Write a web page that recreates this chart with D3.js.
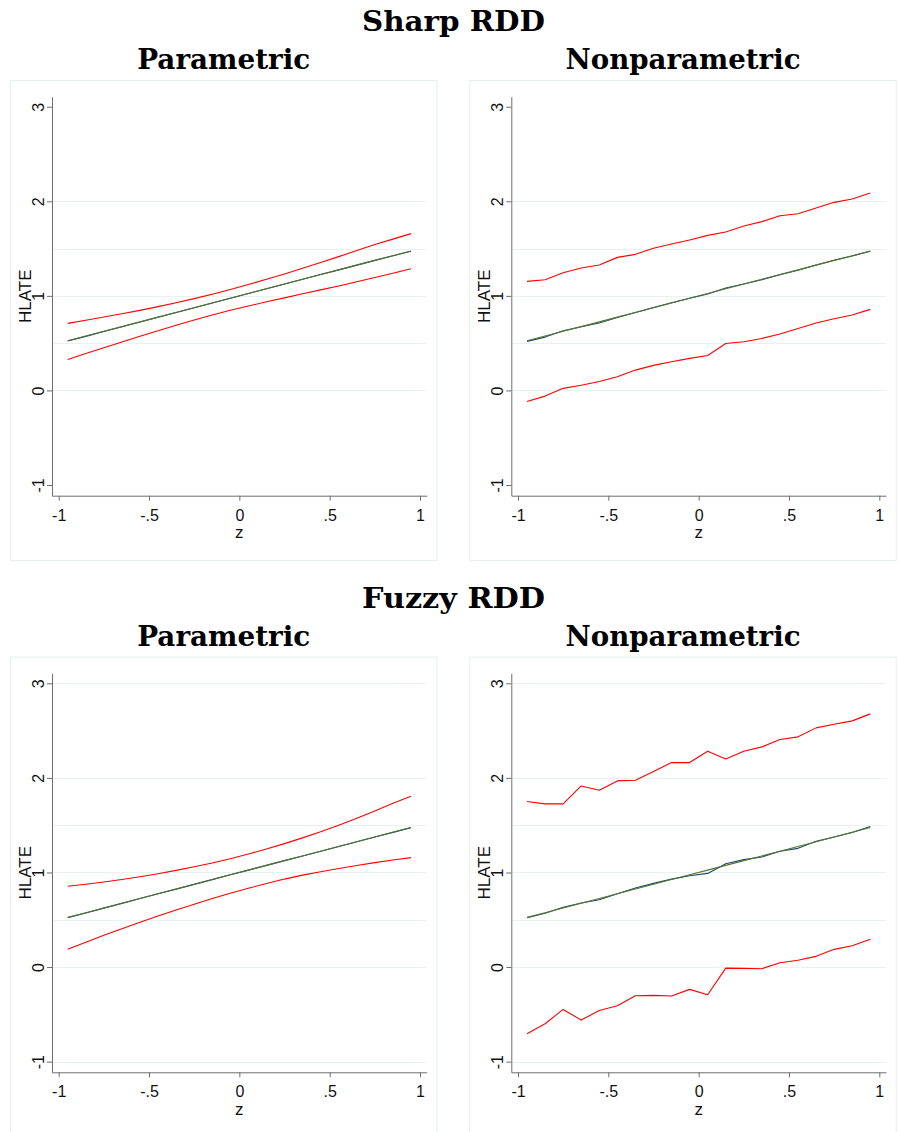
<!DOCTYPE html>
<html>
<head>
<meta charset="utf-8">
<script src="https://cdn.jsdelivr.net/npm/d3@7"></script>
<style>
  html, body { margin: 0; padding: 0; background: #ffffff; }
  svg { display: block; }
</style>
</head>
<body>
<svg id="chart" width="899" height="1132"></svg>
<script>
// ---------------- DATA ----------------
const zPoints = [-0.95,-0.85,-0.75,-0.65,-0.55,-0.45,-0.35,-0.25,-0.15,-0.05,0.05,0.15,0.25,0.35,0.45,0.55,0.65,0.75,0.85,0.95];

const xTicks = [-1, -0.5, 0, 0.5, 1];
const xTickLabels = ["-1", "-.5", "0", ".5", "1"];
const yTicks = [-1, 0, 1, 2, 3];
const yTickLabels = ["-1", "0", "1", "2", "3"];

const sectionTitles = ["Sharp RDD", "Fuzzy RDD"];
const panelTitles = ["Parametric", "Nonparametric"];
const xTitle = "z";
const yTitle = "HLATE";

// true HLATE (green)
const trueHLATE = [0.525,0.575,0.625,0.675,0.725,0.775,0.825,0.875,0.925,0.975,1.025,1.075,1.125,1.175,1.225,1.275,1.325,1.375,1.425,1.475];

// Sharp RDD, parametric
const sharpParEst   = [0.522,0.572,0.623,0.673,0.724,0.774,0.824,0.874,0.924,0.975,1.025,1.075,1.125,1.175,1.225,1.275,1.325,1.375,1.424,1.472];
const sharpParUpper = [0.709,0.742,0.776,0.811,0.847,0.886,0.927,0.971,1.018,1.068,1.120,1.175,1.232,1.291,1.352,1.415,1.479,1.544,1.600,1.658];
const sharpParLower = [0.328,0.390,0.452,0.513,0.573,0.632,0.690,0.745,0.797,0.847,0.893,0.937,0.979,1.022,1.063,1.105,1.150,1.195,1.240,1.287];

// Sharp RDD, nonparametric
const sharpNpEst   = [0.519,0.564,0.631,0.674,0.713,0.772,0.825,0.878,0.928,0.974,1.019,1.083,1.125,1.171,1.224,1.270,1.326,1.376,1.422,1.471];
const sharpNpUpper = [1.153,1.171,1.245,1.295,1.326,1.407,1.439,1.503,1.549,1.591,1.640,1.676,1.739,1.785,1.848,1.869,1.929,1.989,2.025,2.088];
const sharpNpLower = [-0.116,-0.060,0.022,0.055,0.095,0.145,0.215,0.265,0.303,0.339,0.370,0.497,0.515,0.550,0.596,0.656,0.713,0.758,0.797,0.857];

// Fuzzy RDD, parametric
const fuzzyParEst   = [0.522,0.572,0.623,0.673,0.724,0.774,0.824,0.874,0.924,0.975,1.025,1.075,1.125,1.175,1.225,1.275,1.325,1.375,1.424,1.474];
const fuzzyParUpper = [0.854,0.876,0.900,0.926,0.955,0.987,1.022,1.060,1.101,1.146,1.195,1.248,1.305,1.366,1.431,1.500,1.573,1.650,1.731,1.806];
const fuzzyParLower = [0.187,0.262,0.335,0.405,0.473,0.539,0.603,0.665,0.724,0.780,0.833,0.883,0.930,0.972,1.008,1.042,1.074,1.104,1.131,1.157];

// Fuzzy RDD, nonparametric
const fuzzyNpEst   = [0.522,0.568,0.632,0.677,0.712,0.776,0.835,0.885,0.930,0.965,0.990,1.093,1.136,1.164,1.224,1.255,1.330,1.376,1.422,1.485];
const fuzzyNpUpper = [1.750,1.725,1.725,1.915,1.869,1.968,1.975,2.067,2.162,2.162,2.282,2.201,2.282,2.328,2.406,2.434,2.529,2.568,2.603,2.677];
const fuzzyNpLower = [-0.705,-0.600,-0.448,-0.561,-0.459,-0.409,-0.303,-0.300,-0.307,-0.236,-0.293,-0.011,-0.014,-0.018,0.046,0.071,0.113,0.187,0.226,0.293];

const gridTop = [0, 0.5, 1, 1.5, 2];
const gridBottom = [-1, 0, 0.5, 1, 1.5, 2, 3];

// ---------------- LAYOUT ----------------
const svg = d3.select("#chart");
const C = {
  red: "#ff0000", navy: "#1a476f", green: "#55752f",
  axis: "#6e6e6e", grid: "#eaf1f1", frame: "#e7eeee", text: "#111"
};
const titleFont = "'DejaVu Serif', 'Liberation Serif', serif";
const sansFont = "'Liberation Sans', Arial, Helvetica, sans-serif";

const panelW = 427.4, panelH = 480;
const colX = [10, 469.3];
const rowY = [80, 656.6];

const panels = [
  {row:0, col:0, est: sharpParEst, up: sharpParUpper, lo: sharpParLower, grid: gridTop},
  {row:0, col:1, est: sharpNpEst,  up: sharpNpUpper,  lo: sharpNpLower,  grid: gridTop},
  {row:1, col:0, est: fuzzyParEst, up: fuzzyParUpper, lo: fuzzyParLower, grid: gridBottom},
  {row:1, col:1, est: fuzzyNpEst,  up: fuzzyNpUpper,  lo: fuzzyNpLower,  grid: gridBottom}
];

// section titles
sectionTitles.forEach((t, i) => {
  svg.append("text")
    .attr("x", 453.5).attr("y", 31 + i * 576.6)
    .attr("text-anchor", "middle")
    .attr("font-family", titleFont).attr("font-weight", "bold")
    .attr("font-size", 27).attr("fill", "#000")
    .attr("textLength", 183).attr("lengthAdjust", "spacingAndGlyphs")
    .text(t);
});

panels.forEach(p => {
  const fx = colX[p.col], fy = rowY[p.row];
  const g = svg.append("g");

  // panel title
  g.append("text")
    .attr("x", fx + panelW / 2).attr("y", fy - 11)
    .attr("text-anchor", "middle")
    .attr("font-family", titleFont).attr("font-weight", "bold")
    .attr("font-size", 27).attr("fill", "#000")
    .attr("textLength", p.col === 0 ? 173 : 235).attr("lengthAdjust", "spacingAndGlyphs")
    .text(panelTitles[p.col]);

  // outer frame
  g.append("rect")
    .attr("x", fx + 0.5).attr("y", fy + 0.5)
    .attr("width", panelW - 1).attr("height", panelH)
    .attr("fill", "#fff").attr("stroke", C.frame).attr("stroke-width", 1);

  const x = d3.scaleLinear().domain([-1.037, 1.037]).range([fx + 42, fx + 416.7]);
  const y = d3.scaleLinear().domain([-1.113, 3.106]).range([fy + 415.7, fy + 16.7]);

  // gridlines
  g.append("g").selectAll("line").data(p.grid).join("line")
    .attr("x1", x.range()[0]).attr("x2", x.range()[1])
    .attr("y1", d => Math.round(y(d)) + 0.5).attr("y2", d => Math.round(y(d)) + 0.5)
    .attr("stroke", C.grid).attr("stroke-width", 1);

  // lines
  const line = d3.line().x((d, i) => x(zPoints[i])).y(d => y(d));
  const drawLine = (vals, color) => g.append("path")
    .datum(vals).attr("d", line)
    .attr("fill", "none").attr("stroke", color)
    .attr("stroke-width", 1.1).attr("stroke-linejoin", "round");
  drawLine(p.up, C.red);
  drawLine(p.lo, C.red);
  drawLine(p.est, C.navy);
  drawLine(trueHLATE, C.green);

  // x axis
  const xAxis = d3.axisBottom(x).tickValues(xTicks)
    .tickFormat((d, i) => xTickLabels[i]).tickSize(5).tickSizeOuter(0).tickPadding(4);
  const gx = g.append("g").attr("transform", `translate(0,${fy + 415.7})`).call(xAxis);
  gx.select(".domain").attr("stroke", C.axis);
  gx.selectAll(".tick line").attr("stroke", C.axis);
  gx.selectAll(".tick text").attr("font-family", sansFont).attr("font-size", 16)
    .attr("fill", C.text).attr("dy", null).attr("y", 0)
    .attr("transform", "translate(0,25)");

  // y axis
  const yAxis = d3.axisLeft(y).tickValues(yTicks)
    .tickFormat((d, i) => yTickLabels[i]).tickSize(5).tickSizeOuter(0);
  const gy = g.append("g").attr("transform", `translate(${fx + 42},0)`).call(yAxis);
  gy.select(".domain").attr("stroke", C.axis);
  gy.selectAll(".tick line").attr("stroke", C.axis);
  gy.selectAll(".tick text").attr("font-family", sansFont).attr("font-size", 16)
    .attr("fill", C.text).attr("text-anchor", "middle")
    .attr("x", 0).attr("dy", null).attr("y", -8.5)
    .attr("transform", "rotate(-90)");

  // axis titles
  g.append("text")
    .attr("x", x(0)).attr("y", fy + 458)
    .attr("text-anchor", "middle").attr("font-family", sansFont)
    .attr("font-size", 17).attr("fill", C.text).text(xTitle);
  g.append("text")
    .attr("transform", `translate(${fx + 20.7},${(y.range()[0] + y.range()[1]) / 2}) rotate(-90)`)
    .attr("text-anchor", "middle").attr("font-family", sansFont)
    .attr("font-size", 17).attr("fill", C.text).text(yTitle);
});
</script>
</body>
</html>
